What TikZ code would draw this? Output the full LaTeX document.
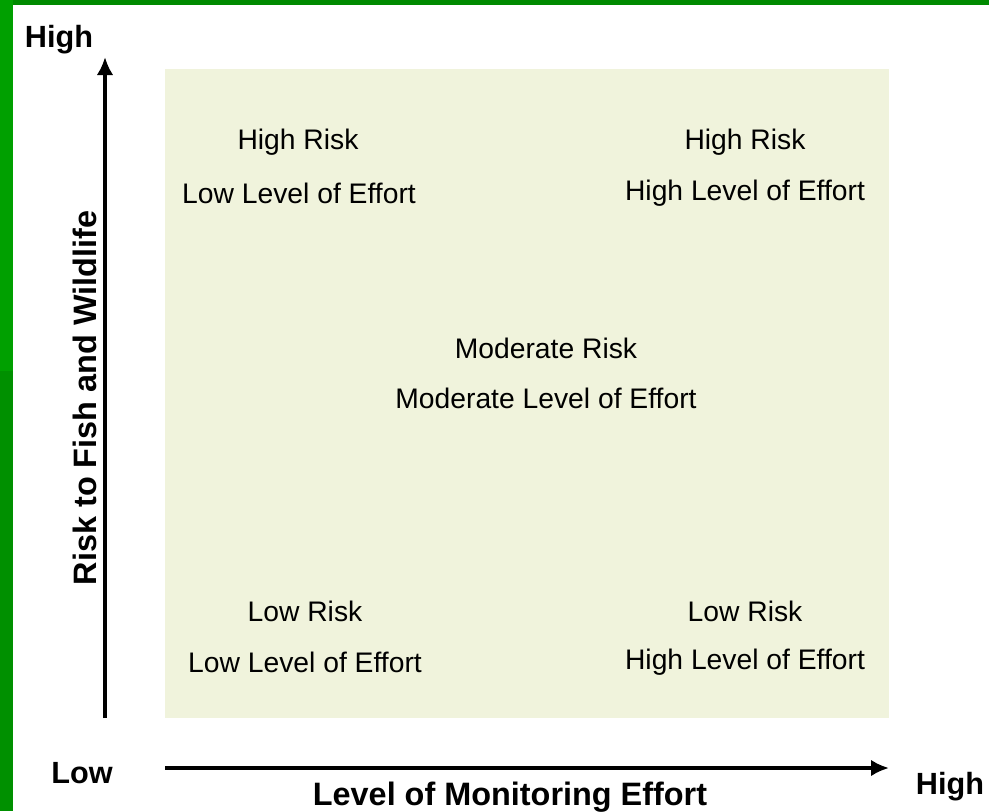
\documentclass[tikz,border=0pt]{standalone}
\usepackage{fontspec}
\setmainfont{Liberation Sans}
\usetikzlibrary{arrows.meta,positioning}
\definecolor{boxfill}{HTML}{F0F3DC}
\definecolor{framegreen}{HTML}{008A00}
\definecolor{framegreenlight}{HTML}{00A000}
\definecolor{framegreendark}{HTML}{009000}
\tikzset{
  quadtext/.style={font=\fontsize{21.2}{25}\selectfont, inner sep=0pt},
  endtext/.style={font=\fontsize{23}{27}\selectfont\bfseries, inner sep=0pt},
  axistext/.style={font=\fontsize{24.3}{28}\selectfont\bfseries, inner sep=0pt},
  axisline/.style={line width=3.6pt, -{Latex[length=13.5pt,width=12.5pt]}}
}
\begin{document}
\begin{tikzpicture}[x=0.75pt, y=-0.75pt]
\useasboundingbox (0,0) rectangle (989,811);
\fill [white] (0,0) rectangle (989,811);
% frame
\fill [framegreen] (0,0) rectangle (989,5);
\fill [framegreenlight] (0,0) rectangle (13,371);
\fill [framegreendark] (0,371) rectangle (13,811);
% background panel
\fill [boxfill] (165,69) rectangle (889,718);

\coordinate (yfoot) at (105,718);
\coordinate (ytip) at (105,57);
\coordinate (xfoot) at (165,768);
\coordinate (xtip) at (889,768);
\draw [axisline] (yfoot) -- (ytip);
\draw [axisline] (xfoot) -- (xtip);

\node [endtext] (yhigh) at (59,40) {High};
\node [endtext] (xlow) at (82,773) {Low};
\node [endtext] (xhigh) at (950,787) {High};
\node [axistext] (xlabel) at (510,797) {Level of Monitoring Effort};
\node [axistext, rotate=90] (ylabel) at (85,398) {Risk to Fish and Wildlife};

\node [quadtext] (hlrisk) at (298,142) {High Risk};
\node [quadtext] (hleffort) at (299,193) {Low Level of Effort};
\node [quadtext] (hhrisk) at (745,142) {High Risk};
\node [quadtext] (hheffort) at (745,193) {High Level of Effort};
\node [quadtext] (mrisk) at (546,348) {Moderate Risk};
\node [quadtext] (meffort) at (546,398) {Moderate Level of Effort};
\node [quadtext] (llrisk) at (305,611) {Low Risk};
\node [quadtext] (lleffort) at (305,662) {Low Level of Effort};
\node [quadtext] (lhrisk) at (745,611) {Low Risk};
\node [quadtext] (lheffort) at (745,662) {High Level of Effort};
\end{tikzpicture}
\end{document}
